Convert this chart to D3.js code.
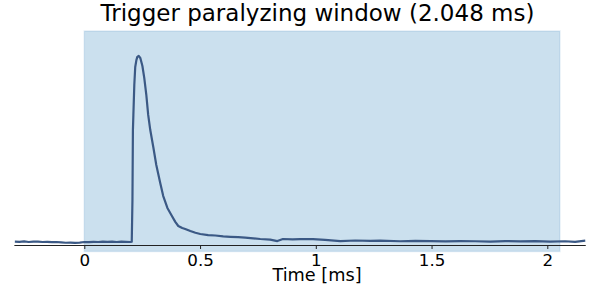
<!DOCTYPE html>
<html>
<head>
<meta charset="utf-8">
<script src="https://cdn.jsdelivr.net/npm/d3@7"></script>
<style>
  body { margin: 0; background: #fff; }
  svg { display: block; font-family: "DejaVu Sans", sans-serif; }
</style>
</head>
<body>
<svg id="chart" width="589" height="293"></svg>
<script>
(function(){

  const windowStart = 0
  const windowEnd = 2.048
  const tickValues = [0, 0.5, 1, 1.5, 2]
  const tickLabels = ['0', '0.5', '1', '1.5', '2']

  // time in ms
  const time = [
    -0.30, -0.28, -0.26, -0.24, -0.22, -0.20, -0.18, -0.16, -0.14, -0.12,
    -0.10, -0.08, -0.06, -0.04, -0.02, 0.00, 0.02, 0.04, 0.06, 0.08,
    0.10, 0.12, 0.14, 0.16, 0.18, 0.200, 0.205,
    0.208, 0.210, 0.212, 0.216, 0.220, 0.225, 0.229, 0.235, 0.242,
    0.251, 0.259, 0.268, 0.276, 0.285, 0.298, 0.311, 0.328, 0.341,
    0.359, 0.376, 0.393, 0.406, 0.423, 0.436, 0.458, 0.480, 0.501,
    0.535, 0.566, 0.600, 0.631, 0.665, 0.695, 0.730, 0.760, 0.803,
    0.834, 0.858, 0.900, 0.932, 0.988, 1.040, 1.106, 1.170, 1.235,
    1.278, 1.365, 1.430, 1.495, 1.560, 1.624, 1.689, 1.754, 1.819,
    1.884, 1.948, 2.012, 2.077, 2.120, 2.164
  ]

  // normalised signal amplitude
  const signal = [
    0.002, 0.001, 0.003, 0.000, 0.002, 0.002, 0.000, 0.001, -0.001, 0.000,
    -0.002, -0.004, -0.003, -0.005, -0.003, 0.000, -0.001, 0.001, 0.000, 0.002,
    0.001, 0.002, 0.000, 0.002, 0.001, 0.000, 0.002,
    0.226, 0.602, 0.683, 0.844, 0.941, 0.978, 0.995, 1.000, 0.989,
    0.946, 0.882, 0.790, 0.683, 0.602, 0.511, 0.414, 0.317, 0.247,
    0.183, 0.145, 0.108, 0.086, 0.075, 0.070, 0.059, 0.050, 0.043,
    0.037, 0.035, 0.030, 0.028, 0.026, 0.024, 0.020, 0.016, 0.013,
    0.005, 0.016, 0.014, 0.015, 0.015, 0.011, 0.005, 0.008, 0.006,
    0.007, 0.004, 0.006, 0.005, 0.003, 0.005, 0.004, 0.002, 0.005,
    0.003, 0.005, 0.002, 0.004, 0.001, 0.007
  ]

  const svg = d3.select('#chart')

  const x = d3.scaleLinear().domain([0, 2]).range([84.3, 547.3])
  const y = d3.scaleLinear().domain([0, 1]).range([242, 56])

  const axTop = 31, axBottom = 251.5, spineY = 245.5
  const xMin = -0.3, xMax = 2.164

  // paralyzing window
  svg.append('rect')
      .attr('x', x(windowStart)).attr('y', axTop)
      .attr('width', x(windowEnd) - x(windowStart) + 1.5)
      .attr('height', axBottom - axTop)
      .attr('fill', '#1f77b4').attr('fill-opacity', 0.23)
      .attr('stroke', '#1f77b4').attr('stroke-opacity', 0.12)
      .attr('stroke-width', 1.5)

  // x axis
  const axis = d3.axisBottom(x)
      .tickValues(tickValues)
      .tickFormat(function(d, i) { return tickLabels[i] })
      .tickSize(3.5).tickPadding(5.5).tickSizeOuter(0)

  const g = svg.append('g').attr('transform', `translate(0,${spineY})`).call(axis)
  g.select('.domain').remove()
  g.append('line')
      .attr('x1', x(xMin) - 0.5).attr('x2', x(xMax) + 0.5)
      .attr('stroke', '#222').attr('stroke-width', 1)
  g.selectAll('.tick line').attr('stroke', '#222').attr('stroke-width', 1)
  g.selectAll('.tick text')
      .attr('fill', '#000')
      .attr('font-size', '16.7px')
      .attr('font-family', 'DejaVu Sans')

  // signal trace
  const line = d3.line()
      .x(function(d, i) { return x(time[i]) })
      .y(function(d) { return y(d) })

  svg.append('path')
      .datum(signal)
      .attr('d', line)
      .attr('fill', 'none')
      .attr('stroke', '#3b5985')
      .attr('stroke-width', 2.2)
      .attr('stroke-linejoin', 'round')

  svg.append('text')
      .attr('x', 317).attr('y', 281)
      .attr('text-anchor', 'middle')
      .attr('font-size', '17.7px')
      .text('Time [ms]')

  svg.append('text')
      .attr('x', 317.5).attr('y', 21)
      .attr('text-anchor', 'middle')
      .attr('font-size', '23px')
      .text('Trigger paralyzing window (2.048 ms)')

})()
</script>
</body>
</html>
